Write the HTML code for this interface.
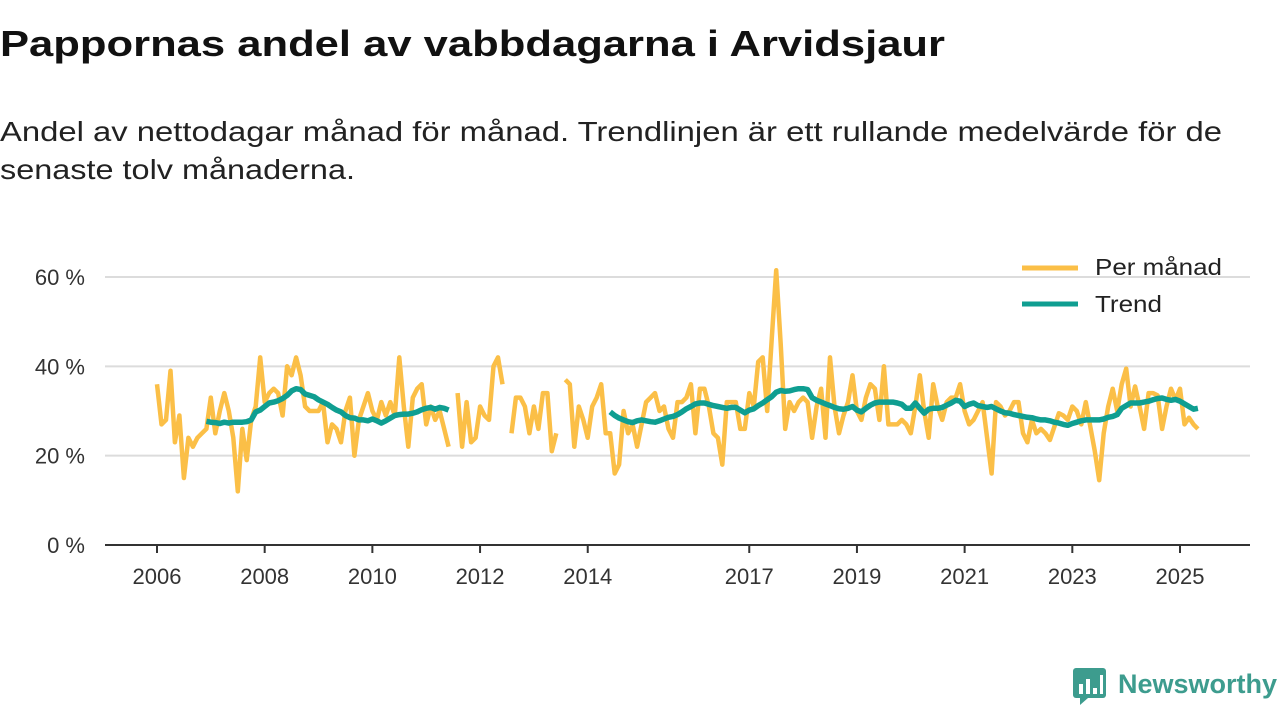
<!DOCTYPE html>
<html><head><meta charset="utf-8"><style>
body{margin:0;background:#fff;width:1280px;height:720px;overflow:hidden;font-family:"Liberation Sans",sans-serif;}
svg{display:block}
</style></head><body>
<svg id="chart" width="1280" height="720" xmlns="http://www.w3.org/2000/svg">
<text x="0" y="56" font-size="36" font-weight="bold" fill="#111" textLength="945" lengthAdjust="spacingAndGlyphs" font-family="Liberation Sans, sans-serif">Pappornas andel av vabbdagarna i Arvidsjaur</text>
<text x="0" y="141" font-size="28" fill="#222" textLength="1222" lengthAdjust="spacingAndGlyphs" font-family="Liberation Sans, sans-serif">Andel av nettodagar månad för månad. Trendlinjen är ett rullande medelvärde för de</text>
<text x="0" y="179" font-size="28" fill="#222" textLength="355" lengthAdjust="spacingAndGlyphs" font-family="Liberation Sans, sans-serif">senaste tolv månaderna.</text>
<g id="grid"></g>
<g id="yaxis"></g>
<g id="xaxis"></g>
<g id="series"></g>
<g>
<line x1="1022" y1="268" x2="1078" y2="268" stroke="#fbbf47" stroke-width="5"/>
<text x="1095" y="275" font-size="23" fill="#222" textLength="127" lengthAdjust="spacingAndGlyphs">Per månad</text>
<line x1="1022" y1="304" x2="1078" y2="304" stroke="#0f9e91" stroke-width="5"/>
<text x="1095" y="312" font-size="23" fill="#222" textLength="67" lengthAdjust="spacingAndGlyphs">Trend</text>
</g>
<g>
<rect x="1073" y="668" width="33" height="30" rx="3" fill="#3d9c8e"/>
<path d="M1080 705 L1080 698 L1088 698 Z" fill="#3d9c8e"/>
<rect x="1079" y="684" width="4" height="10" fill="#fff"/><rect x="1086" y="679" width="4" height="15" fill="#fff"/><rect x="1093" y="688" width="4" height="6" fill="#fff"/><rect x="1100" y="675" width="3" height="19" fill="#fff"/>
<text x="1118" y="693" font-size="27" font-weight="bold" fill="#3d9c8e">Newsworthy</text>
</g>
</svg>
<script>
const yTicks=[0,20,40,60];
const yTickLabels=["0 %","20 %","40 %","60 %"];
const xTickYears=[2006,2008,2010,2012,2014,2017,2019,2021,2023,2025];
const startYear=2006;
const perMonth=[36,27,28,39,23,29,15,24,22,24,25,26,33,25,30,34,30,24,12,26,19,28,31,42,32,34,35,34,29,40,38,42,38,31,30,30,30,32,23,27,26,23,30,33,20,28,31,34,30,
28,32,29,32,29,42,31,22,33,35,36,27,31,28,30,26,22,
null,
34,22,32,23,24,31,29,28,40,42,36,
null,
25,33,33,31,25,31,26,34,34,21,25,
null,
37,36,22,31,28,24,31,
33,36,25,25,16,18,30,25,27,22,27,32,33,34,30,31,26,24,32,32,33,36,25,35,35,31,25,24,18,32,32,32,26,26,34,31,41,42,30,46,61.5,45,26,32,30,32,33,32,24,31,35,
24,42,31,25,29,32,38,30,28,33,36,35,28,40,27,27,27,28,27,25,31,38,30,24,36,31,28,32,33,33,36,30,27,28,30,32,24,16,32,31,29,30,32,32,25,23,28,25,26,25,
23.5,26.5,29.5,29,28,31,30,27,32,26.5,21,14.5,25,31,35,30,36,39.5,31,35.5,31,26,34,34,33.5,26,31,35,32.5,35,27,28.5,27,26];
const trendPart1Start=11;
const trendPart1=[27.7,27.5,27.4,27.2,27.5,27.3,27.5,27.5,27.5,27.6,28,29.8,30.2,31,31.8,32,32.3,32.8,33.5,34.5,35,34.8,33.8,33.5,33.2,32.5,32,31.5,30.8,30.2,29.8,29,28.5,28.4,28,28,27.8,28.2,27.8,27.3,27.8,28.4,29,29.2,29.3,29.3,29.5,29.8,30.3,30.6,30.8,30.4,30.8,30.6,30.2];
const trendPart2Start=101;
const trendPart2=[29.8,29,28.4,28,27.6,27.4,27.8,28,27.8,27.6,27.5,27.8,28.2,28.6,28.8,29.2,29.8,30.5,31,31.6,31.8,31.8,31.5,31.2,31,30.8,30.6,30.8,30.8,30.2,29.6,30.2,30.5,31.2,31.8,32.5,33.2,34.2,34.6,34.4,34.5,34.8,35,35,34.8,33,32.4,32,31.6,31.2,30.8,30.5,30.4,30.6,31,30.2,29.8,30.6,31.3,31.8,32,32,32,32,31.8,31.5,30.6,30.6,31.8,30.6,29.5,30.4,30.6,30.6,30.8,31.3,31.8,32.4,32.2,31,31.5,31.8,31.2,31,30.8,31,30.5,30,29.6,29.5,29.2,29,28.8,28.6,28.5,28.2,28,28,27.8,27.5,27.3,27,26.8,27.2,27.5,27.8,28,28,28,28,28.2,28.6,28.8,29.2,30.6,31.2,31.8,31.8,31.8,32,32.2,32.5,32.8,32.9,32.6,32.4,32.6,32.2,31.6,31,30.4,30.6];

const NS="http://www.w3.org/2000/svg";
const X0=157, PXM=(1180-157)/228;
const xOf=i=>X0+i*PXM;
const yOf=v=>545-v*(545-277)/60;
function mk(tag,attrs,parent){const e=document.createElementNS(NS,tag);for(const k in attrs)e.setAttribute(k,attrs[k]);parent.appendChild(e);return e;}
const grid=document.getElementById('grid'),yax=document.getElementById('yaxis'),xax=document.getElementById('xaxis'),ser=document.getElementById('series');
yTicks.forEach((t,k)=>{
  if(t>0){const g=mk('line',{x1:105,x2:1250,y1:yOf(t),y2:yOf(t),stroke:'#dcdcdc','stroke-width':2},grid);
  
  }
  const tx=mk('text',{x:85,y:yOf(t)+8,'text-anchor':'end','font-size':22,fill:'#333'},yax);
  tx.textContent=yTickLabels[k];
  
  
});
const ax=mk('line',{x1:105,x2:1250,y1:545,y2:545,stroke:'#333','stroke-width':2},xax);


xTickYears.forEach(y=>{
  const x=xOf((y-startYear)*12);
  const tk=mk('line',{x1:x,x2:x,y1:545,y2:553,stroke:'#333','stroke-width':2},xax);
  
  
  const tx=mk('text',{x:x,y:584,'text-anchor':'middle','font-size':22,fill:'#333'},xax);
  tx.textContent=y;
  
  
});
function pathFrom(arr){let d='',pen=false;arr.forEach((v,i)=>{if(v==null){pen=false;return;}d+=(pen?'L':'M')+xOf(i).toFixed(1)+' '+yOf(v).toFixed(1)+' ';pen=true;});return d;}
const trend=new Array(perMonth.length).fill(null);
trendPart1.forEach((v,k)=>trend[trendPart1Start+k]=v);
trendPart2.forEach((v,k)=>trend[trendPart2Start+k]=v);
const p1=mk('path',{d:pathFrom(perMonth),fill:'none',stroke:'#fbbf47','stroke-width':4.5,'stroke-linejoin':'round'},ser);


const p2=mk('path',{d:pathFrom(trend),fill:'none',stroke:'#0f9e91','stroke-width':5.5,'stroke-linejoin':'round'},ser);


</script>
</body></html>
